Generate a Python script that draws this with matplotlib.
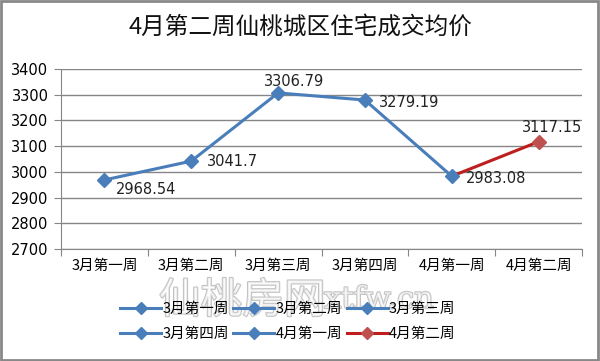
import matplotlib.pyplot as plt
import matplotlib.patheffects as pe
from matplotlib.lines import Line2D
from matplotlib.patches import Rectangle

plt.rcParams['font.family'] = ['Noto Sans CJK SC', 'DejaVu Sans']

# Data
weeks = ["3月第一周", "3月第二周", "3月第三周", "3月第四周", "4月第一周", "4月第二周"]
prices = [2968.54, 3041.7, 3306.79, 3279.19, 2983.08, 3117.15]
label_text = ["2968.54", "3041.7", "3306.79", "3279.19", "2983.08", "3117.15"]
y_ticks = [2700, 2800, 2900, 3000, 3100, 3200, 3300, 3400]

blue = "#4A7EBB"
red_line = "#BE1E1E"
red_marker = "#C0504D"
grid_col = "#868686"

fig = plt.figure(figsize=(6, 3.61), dpi=100)
fig.patches.append(Rectangle((0.002, 0.003), 0.995, 0.993, transform=fig.transFigure,
                             fill=False, edgecolor="#888888", linewidth=2))

ax = fig.add_axes([0.1017, 0.3102, 0.8683, 0.4988])
x = list(range(len(weeks)))

# blue part, then red last segment
ax.plot(x[:5], prices[:5], color=blue, linewidth=2.2, marker="D", markersize=7,
        markerfacecolor=blue, markeredgecolor=blue, zorder=3)
ax.plot(x[4:], prices[4:], color=red_line, linewidth=2.2, zorder=2)
ax.plot(x[5], prices[5], marker="D", markersize=7, color=red_marker, zorder=4)

# data labels: (dx, dy) offsets in points, alignment
offsets = [(8, -7, "left", "center"), (11, 0, "left", "center"), (-10, 3, "left", "bottom"),
           (10, -2, "left", "center"), (10, -2, "left", "center"), (10, 5, "center", "bottom")]
for i, (dx, dy, ha, va) in enumerate(offsets):
    ax.annotate(label_text[i], (x[i], prices[i]), xytext=(dx, dy), textcoords="offset points",
                ha=ha, va=va, fontsize=10.5, color="#222222", family=['DejaVu Sans'])

ax.set_xlim(-0.5, 5.5)
ax.set_ylim(2700, 3400)
ax.set_yticks(y_ticks)
ax.set_yticklabels([str(v) for v in y_ticks], fontsize=10.5, family=['DejaVu Sans'])
ax.set_xticks([i - 0.5 for i in range(7)], minor=False)
ax.set_xticklabels([])
ax.set_xticks(x, minor=True)
ax.set_xticklabels(weeks, minor=True, fontsize=10.5)
ax.tick_params(axis="x", which="minor", length=0, pad=7)
ax.tick_params(axis="x", which="major", length=5, color=grid_col, direction="out")
ax.tick_params(axis="y", length=5, color=grid_col, pad=4)
ax.yaxis.grid(True, color=grid_col, linewidth=1)
ax.set_axisbelow(True)
for s in ["top", "right"]:
    ax.spines[s].set_visible(False)
for s in ["left", "bottom"]:
    ax.spines[s].set_color(grid_col)

fig.text(0.5, 0.925, "4月第二周仙桃城区住宅成交均价", ha="center", va="center",
         fontsize=17, fontweight="medium", color="#111111")

# legend: one entry per week, filled row by row
handles = []
for i, w in enumerate(weeks):
    c = red_line if i == 5 else blue
    mc = red_marker if i == 5 else blue
    handles.append(Line2D([0], [0], color=c, linewidth=2.2, marker="D", markersize=6,
                          markerfacecolor=mc, markeredgecolor=mc, label=w))
order = [0, 3, 1, 4, 2, 5]
fig.legend(handles=[handles[i] for i in order], loc="center", bbox_to_anchor=(0.48, 0.11), ncol=3,
           frameon=False, fontsize=10.5, handlelength=2.8, handletextpad=0.1,
           columnspacing=0.3, labelspacing=0.75)

# watermark
wm = fig.text(0.265, 0.165, "仙桃房网", fontsize=30, color="white", alpha=0.7,
              ha="left", va="center")
wm.set_path_effects([pe.withStroke(linewidth=1.5, foreground="#aaaaaa")])
wm2 = fig.text(0.54, 0.17, "xtfw.cn", fontsize=22, color="white", alpha=0.7,
               ha="left", va="center", family=['DejaVu Serif'])
wm2.set_path_effects([pe.withStroke(linewidth=1.5, foreground="#aaaaaa")])

fig.savefig("out.png", dpi=100)
